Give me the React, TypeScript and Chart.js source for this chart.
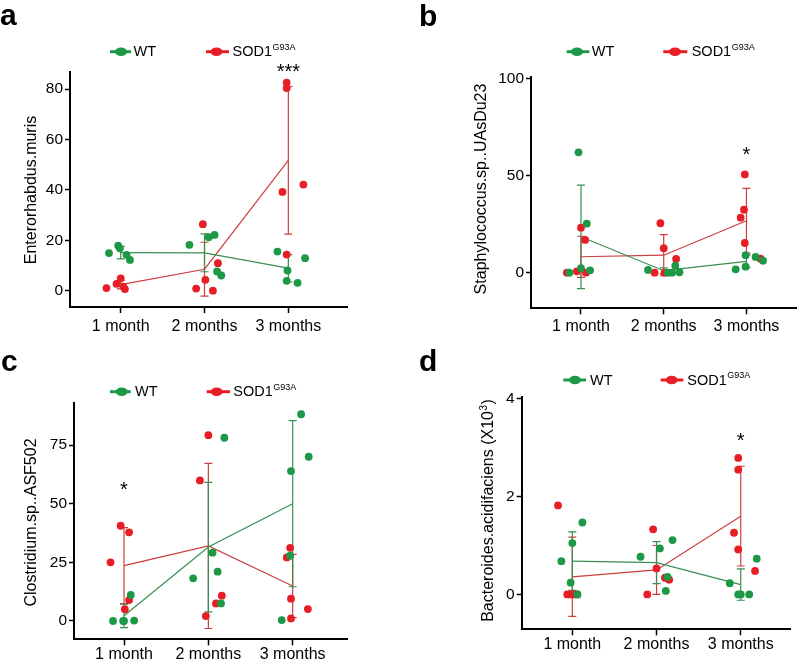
import React, { useEffect, useRef } from 'react';
import { Chart, registerables } from 'chart.js';

Chart.register(...registerables);

const FONT = "Arial, 'Liberation Sans', Helvetica, sans-serif";
const GREEN = 'rgb(28,152,70)';
const RED = 'rgb(232,30,38)';
const GREEN_LINE = 'rgb(58,142,82)';
const RED_LINE = 'rgb(204,62,62)';

const categories = ['1 month', '2 months', '3 months'];

// ---------- Panel a : Enterorhabdus.muris ----------
const aWT = [[14.9, 17.9, 16.8, 14.2, 12.2], [18.2, 21.2, 22.1, 7.6, 6.0], [15.5, 12.9, 8.0, 3.9, 3.1]];
const aWTJitter = [[-0.14, -0.03, -0.01, 0.07, 0.11], [-0.18, 0.05, 0.12, 0.15, 0.2], [-0.13, 0.2, -0.01, -0.02, 0.11]];
const aSOD = [[1.0, 2.7, 4.9, 1.6, 0.6], [26.4, 10.9, 4.3, 0.8, 0], [82.6, 80.4, 39.2, 42.1, 14.3]];
const aSODJitter = [[-0.17, -0.05, 0, 0.03, 0.05], [-0.02, 0.16, 0.01, -0.1, 0.1], [-0.02, -0.02, -0.07, 0.18, -0.02]];
const aWTMean = [15.1, 15.0, 8.9];
const aWTSd = [2.5, 7.5, 5.4];
const aSODMean = [2.4, 8.5, 51.7];
const aSODSd = [1.7, 10.7, 29.3];
const aYTicks = [0, 20, 40, 60, 80];
const aStars = ['', '', '***'];
const aStarY = [0, 0, 88.8];

// ---------- Panel b : Staphylococcus.sp..UAsDu23 ----------
const bWT = [[62.1, 25.3, 2.3, 1.2, 0], [1.4, 0, 0, 3.6, 0.2], [1.7, 3.1, 9.0, 8.1, 6.2]];
const bWTJitter = [[-0.03, 0.07, 0, 0.11, -0.14], [-0.19, 0.05, 0.1, 0.14, 0.19], [-0.13, -0.01, -0.01, 0.11, 0.2]];
const bSOD = [[23.2, 16.9, 0, 0.7, 0], [25.5, 12.6, 7.1, 0, 0], [50.7, 32.5, 28.4, 15.3, 7.2]];
const bSODJitter = [[0, 0.05, -0.17, -0.05, 0.06], [-0.04, 0, 0.15, -0.11, 0.01], [-0.02, -0.03, -0.07, -0.02, 0.17]];
const bWTMean = [18.5, 1.0, 5.8];
const bWTSd = [26.7, 1.5, 3.2];
const bSODMean = [8.2, 9.0, 26.8];
const bSODSd = [10.6, 10.6, 16.7];
const bYTicks = [0, 50, 100];
const bStars = ['', '', '*'];
const bStarY = [0, 0, 63.6];

// ---------- Panel c : Clostridium.sp..ASF502 ----------
const cWT = [[0, 0, 0, 0.2, 11.1], [78.1, 29.1, 21.0, 18.2, 7.5], [88.1, 70.0, 63.9, 27.8, 0.4]];
const cWTJitter = [[-0.13, -0.01, 0.0, 0.12, 0.08], [0.19, 0.05, 0.11, -0.18, 0.15], [0.1, 0.19, -0.02, -0.03, -0.13]];
const cSOD = [[40.6, 37.8, 25.0, 8.9, 5.0], [79.2, 59.9, 10.8, 7.5, 2.1], [31.2, 27.1, 9.5, 5.1, 1.1]];
const cSODJitter = [[-0.04, 0.06, -0.16, 0.06, 0.01], [0, -0.1, 0.16, 0.09, -0.03], [-0.03, -0.07, -0.02, 0.18, -0.02]];
const cWTMean = [2.2, 31.5, 50.0];
const cWTSd = [5.0, 27.6, 35.4];
const cSODMean = [23.6, 32.0, 14.9];
const cSODSd = [16.2, 35.2, 13.5];
const cYTicks = [0, 25, 50, 75];
const cStars = ['*', '', ''];
const cStarY = [57.9, 0, 0];

// ---------- Panel d : Bacteroides.acidifaciens (X10^3) ----------
const dWT = [[1.47, 1.05, 0.68, 0.24, 0], [1.11, 0.94, 0.77, 0.36, 0.07], [0.73, 0.23, 0, 0, 0]];
const dWTJitter = [[0.12, 0, -0.13, -0.02, 0.06], [0.19, 0.04, -0.19, 0.13, 0.11], [0.19, -0.13, -0.03, 0, 0.1]];
const dSOD = [[1.82, 0, 0, 0, 0], [1.33, 0.53, 0.34, 0.3, 0], [2.79, 2.55, 1.26, 0.92, 0.48]];
const dSODJitter = [[-0.17, -0.06, -0.02, 0.02, 0.06], [-0.04, 0, 0.1, 0.15, -0.11], [-0.03, -0.03, -0.08, -0.03, 0.17]];
const dWTMean = [0.68, 0.65, 0.2];
const dWTSd = [0.6, 0.43, 0.32];
const dSODMean = [0.36, 0.5, 1.6];
const dSODSd = [0.81, 0.5, 1.02];
const dYTicks = [0, 2, 4];
const dStars = ['', '', '*'];
const dStarY = [0, 0, 3.25];

type Group = { vals: number[][]; jit: number[][]; mean: number[]; sd: number[] };
type Leg = { l0: number; l1: number; dot: number; text: number };
interface Cfg {
  letter: string;
  pos: [number, number, number, number];
  area: [number, number, number, number];
  xRange: [number, number];
  yRange: [number, number];
  yTicks: number[];
  xPad: number;
  title: string;
  titleSup?: string;
  titleAfter?: string;
  titleAt: [number, number];
  letterAt: [number, number];
  legendY: number;
  wtLeg: Leg;
  sodLeg: Leg;
  wt: Group;
  sod: Group;
  stars: string[];
  starY: number[];
}

const panels: Cfg[] = [
  {
    letter: 'a', pos: [0, 0, 400, 340], area: [70, 72, 347, 307],
    xRange: [0.395, 3.7], yRange: [-6.5, 86.8], yTicks: aYTicks, xPad: 4,
    title: 'Enterorhabdus.muris', titleAt: [31.7, 190], letterAt: [0, 25],
    legendY: 51.7,
    wtLeg: { l0: 110, l1: 131, dot: 121, text: 133.5 },
    sodLeg: { l0: 206, l1: 229, dot: 216.5, text: 232.5 },
    wt: { vals: aWT, jit: aWTJitter, mean: aWTMean, sd: aWTSd },
    sod: { vals: aSOD, jit: aSODJitter, mean: aSODMean, sd: aSODSd },
    stars: aStars, starY: aStarY,
  },
  {
    letter: 'b', pos: [400, 0, 400, 340], area: [131, 77, 400, 308.3],
    xRange: [0.396, 3.6], yRange: [-18.4, 101], yTicks: bYTicks, xPad: 3,
    title: 'Staphylococcus.sp..UAsDu23', titleAt: [82, 189], letterAt: [19, 26],
    legendY: 51.7,
    wtLeg: { l0: 166.7, l1: 189.3, dot: 177, text: 191.7 },
    sodLeg: { l0: 263.3, l1: 287.3, dot: 275, text: 291.7 },
    wt: { vals: bWT, jit: bWTJitter, mean: bWTMean, sd: bWTSd },
    sod: { vals: bSOD, jit: bSODJitter, mean: bSODMean, sd: bSODSd },
    stars: bStars, starY: bStarY,
  },
  {
    letter: 'c', pos: [0, 340, 400, 325], area: [74, 63, 347, 299.3],
    xRange: [0.407, 3.644], yRange: [-7.8, 92.9], yTicks: cYTicks, xPad: 0,
    title: 'Clostridium.sp..ASF502', titleAt: [31.7, 182.5], letterAt: [1, 31],
    legendY: 51.7,
    wtLeg: { l0: 110, l1: 130.7, dot: 121.7, text: 135 },
    sodLeg: { l0: 206.7, l1: 230, dot: 216.7, text: 233.3 },
    wt: { vals: cWT, jit: cWTJitter, mean: cWTMean, sd: cWTSd },
    sod: { vals: cSOD, jit: cSODJitter, mean: cSODMean, sd: cSODSd },
    stars: cStars, starY: cStarY,
  },
  {
    letter: 'd', pos: [400, 340, 400, 325], area: [121.7, 57.3, 390, 289.3],
    xRange: [0.399, 3.585], yRange: [-0.714, 4.03], yTicks: dYTicks, xPad: 0,
    title: 'Bacteroides.acidifaciens (X10', titleSup: '3', titleAfter: ')',
    titleAt: [89, 170.5], letterAt: [19, 31],
    legendY: 40,
    wtLeg: { l0: 163.3, l1: 186, dot: 175, text: 190 },
    sodLeg: { l0: 260.7, l1: 283.3, dot: 271.7, text: 287.3 },
    wt: { vals: dWT, jit: dWTJitter, mean: dWTMean, sd: dWTSd },
    sod: { vals: dSOD, jit: dSODJitter, mean: dSODMean, sd: dSODSd },
    stars: dStars, starY: dStarY,
  },
];

const pts = (g: Group) =>
  g.vals.flatMap((arr, i) => arr.map((v, j) => ({ x: i + 1 + g.jit[i][j], y: v })));
const meanPts = (g: Group) => g.mean.map((m, i) => ({ x: i + 1, y: m }));

function drawLegendItem(ctx: CanvasRenderingContext2D, leg: Leg, y: number, color: string, label: string, sup?: string) {
  ctx.save();
  ctx.strokeStyle = color;
  ctx.lineWidth = 3;
  ctx.beginPath();
  ctx.moveTo(leg.l0, y);
  ctx.lineTo(leg.l1, y);
  ctx.stroke();
  ctx.fillStyle = color;
  ctx.beginPath();
  ctx.ellipse(leg.dot, y, 6, 4.2, 0, 0, Math.PI * 2);
  ctx.fill();
  ctx.fillStyle = '#000';
  ctx.textBaseline = 'middle';
  ctx.textAlign = 'left';
  ctx.font = `14.5px ${FONT}`;
  ctx.fillText(label, leg.text, y + 0.5);
  if (sup) {
    const w = ctx.measureText(label).width;
    ctx.font = `9px ${FONT}`;
    ctx.fillText(sup, leg.text + w + 0.5, y - 4);
  }
  ctx.restore();
}

function makeDecor(cfg: Cfg) {
  return {
    id: 'decor',
    beforeDatasetsDraw(chart: any) {
      const { ctx } = chart;
      const xs = chart.scales.x;
      const ys = chart.scales.y;
      const groups: [Group, string][] = [[cfg.sod, RED_LINE], [cfg.wt, GREEN_LINE]];
      ctx.save();
      groups.forEach(([g, color]) => {
        ctx.strokeStyle = color;
        ctx.lineWidth = 1.2;
        g.mean.forEach((m, i) => {
          const x = xs.getPixelForValue(i + 1);
          const yt = ys.getPixelForValue(m + g.sd[i]);
          const yb = ys.getPixelForValue(m - g.sd[i]);
          ctx.beginPath();
          ctx.moveTo(x, yt);
          ctx.lineTo(x, yb);
          ctx.moveTo(x - 4, yt);
          ctx.lineTo(x + 4, yt);
          ctx.moveTo(x - 4, yb);
          ctx.lineTo(x + 4, yb);
          ctx.stroke();
        });
      });
      ctx.restore();
    },
    afterDraw(chart: any) {
      const { ctx } = chart;
      const xs = chart.scales.x;
      const ys = chart.scales.y;
      ctx.save();
      ctx.fillStyle = '#000';
      ctx.textAlign = 'left';
      ctx.textBaseline = 'alphabetic';
      ctx.font = `bold 30px ${FONT}`;
      ctx.fillText(cfg.letter, cfg.letterAt[0], cfg.letterAt[1]);
      drawLegendItem(ctx, cfg.wtLeg, cfg.legendY, GREEN, 'WT');
      drawLegendItem(ctx, cfg.sodLeg, cfg.legendY, RED, 'SOD1', 'G93A');
      ctx.save();
      ctx.translate(cfg.titleAt[0], cfg.titleAt[1]);
      ctx.rotate(-Math.PI / 2);
      ctx.textBaseline = 'middle';
      ctx.textAlign = 'left';
      ctx.fillStyle = '#000';
      ctx.font = `16px ${FONT}`;
      const w1 = ctx.measureText(cfg.title).width;
      let w2 = 0;
      let w3 = 0;
      if (cfg.titleSup) {
        ctx.font = `10px ${FONT}`;
        w2 = ctx.measureText(cfg.titleSup).width + 1;
        ctx.font = `16px ${FONT}`;
        w3 = ctx.measureText(cfg.titleAfter || '').width;
      }
      const start = -(w1 + w2 + w3) / 2;
      ctx.fillText(cfg.title, start, 0);
      if (cfg.titleSup) {
        ctx.font = `10px ${FONT}`;
        ctx.fillText(cfg.titleSup, start + w1 + 0.5, -5);
        ctx.font = `16px ${FONT}`;
        ctx.fillText(cfg.titleAfter || '', start + w1 + w2, 0);
      }
      ctx.restore();
      ctx.fillStyle = '#000';
      ctx.textAlign = 'center';
      ctx.textBaseline = 'alphabetic';
      ctx.font = `20px ${FONT}`;
      cfg.stars.forEach((s, i) => {
        if (!s) return;
        const x = xs.getPixelForValue(i + 1);
        const y = ys.getPixelForValue(cfg.starY[i]);
        ctx.fillText(s, x, y + 11.2);
      });
      ctx.restore();
    },
  };
}

function Panel({ cfg }: { cfg: Cfg }) {
  const ref = useRef<HTMLCanvasElement | null>(null);
  useEffect(() => {
    const canvas = ref.current;
    if (!canvas) return;
    const [, , W, H] = cfg.pos;
    const [al, at, ar, ab] = cfg.area;
    const chart = new Chart(canvas, {
      type: 'scatter',
      data: {
        datasets: [
          { type: 'scatter', data: pts(cfg.wt), backgroundColor: GREEN, borderWidth: 0, pointRadius: 3.9, pointHoverRadius: 3.9 },
          { type: 'scatter', data: pts(cfg.sod), backgroundColor: RED, borderWidth: 0, pointRadius: 3.9, pointHoverRadius: 3.9 },
          { type: 'line', data: meanPts(cfg.wt), borderColor: GREEN_LINE, borderWidth: 1.2, pointRadius: 0, fill: false, tension: 0 },
          { type: 'line', data: meanPts(cfg.sod), borderColor: RED_LINE, borderWidth: 1.2, pointRadius: 0, fill: false, tension: 0 },
        ] as any,
      },
      options: {
        animation: false,
        responsive: false,
        maintainAspectRatio: false,
        events: [],
        layout: { padding: { left: 0, top: at, right: W - ar, bottom: 0 } },
        plugins: { legend: { display: false }, tooltip: { enabled: false }, title: { display: false } },
        scales: {
          x: {
            type: 'linear',
            min: cfg.xRange[0],
            max: cfg.xRange[1],
            afterBuildTicks: (s: any) => {
              s.ticks = categories.map((_, i) => ({ value: i + 1 }));
            },
            afterFit: (s: any) => {
              s.height = H - ab;
            },
            ticks: {
              callback: (v: any) => categories[Math.round(Number(v)) - 1] ?? '',
              color: '#000',
              font: { family: FONT, size: 16 },
              padding: cfg.xPad,
              maxRotation: 0,
              autoSkip: false,
            },
            grid: { drawOnChartArea: false, drawTicks: true, tickLength: 6, tickWidth: 1.5, tickColor: '#000' },
            border: { display: true, color: '#000', width: 2 },
          },
          y: {
            type: 'linear',
            min: cfg.yRange[0],
            max: cfg.yRange[1],
            afterBuildTicks: (s: any) => {
              s.ticks = cfg.yTicks.map((v) => ({ value: v }));
            },
            afterFit: (s: any) => {
              s.width = al;
            },
            ticks: { color: '#000', font: { family: FONT, size: 15.5 }, padding: 2, autoSkip: false },
            grid: { drawOnChartArea: false, drawTicks: true, tickLength: 5, tickWidth: 1.5, tickColor: '#000' },
            border: { display: true, color: '#000', width: 2 },
          },
        },
      } as any,
      plugins: [makeDecor(cfg)],
    });
    return () => chart.destroy();
  }, [cfg]);
  const [l, t, w, h] = cfg.pos;
  return (
    <canvas
      ref={ref}
      width={w}
      height={h}
      style={{ position: 'absolute', left: l, top: t, width: w, height: h }}
    />
  );
}

export default function App() {
  return (
    <div style={{ position: 'absolute', left: 0, top: 0, width: 800, height: 665, background: '#fff', overflow: 'hidden' }}>
      {panels.map((p) => (
        <Panel key={p.letter} cfg={p} />
      ))}
    </div>
  );
}
